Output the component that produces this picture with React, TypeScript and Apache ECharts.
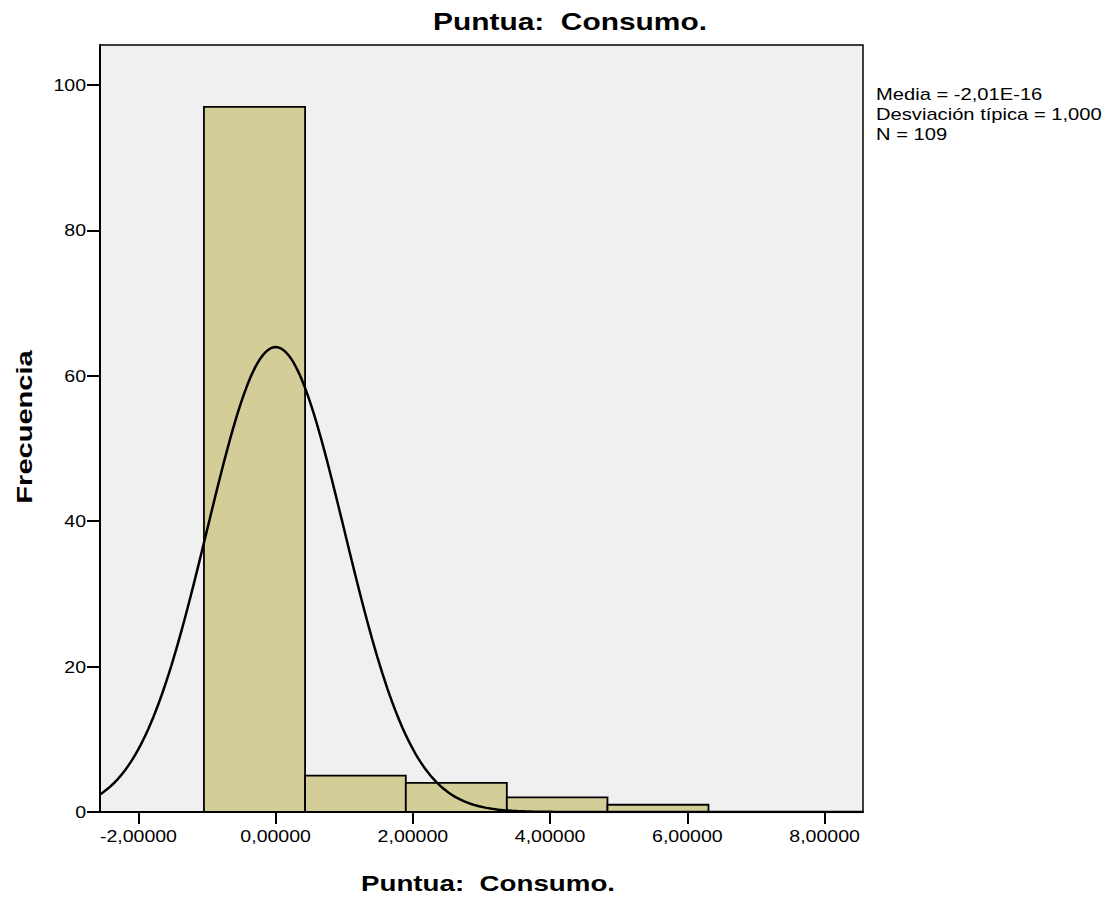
import React, { useEffect, useRef } from "react";
import * as echarts from "echarts";

// Histogram data (bin edges along the standardized score axis, frequencies per bin)
const binEdges = [-1.045, 0.429, 1.897, 3.369, 4.836, 6.308];
const binCounts = [97, 5, 4, 2, 1];

// Summary statistics shown in the legend
const mean = -2.01e-16;
const sd = 1.0;
const n = 109;
const statLines = ["Media = -2,01E-16", "Desviación típica = 1,000", "N = 109"];

// Axes
const xTicks = [-2, 0, 2, 4, 6, 8];
const yTicks = [0, 20, 40, 60, 80, 100];
const xMin = -2.56;
const xMax = 8.56;
const yMax = 105.5;

const titleText = "Puntua:  Consumo.";
const xName = "Puntua:  Consumo.";
const yName = "Frecuencia";

const FONT = "'Liberation Sans', Arial, sans-serif";

export default function App() {
  const ref = useRef<HTMLDivElement>(null);

  useEffect(() => {
    if (!ref.current) return;
    const chart = echarts.init(ref.current, null, { renderer: "svg" });

    const bins = binCounts.map((c, i) => [binEdges[i], binEdges[i + 1], c]);
    const binWidth = (binEdges[binEdges.length - 1] - binEdges[0]) / binCounts.length;

    // Normal curve scaled to the histogram (defined by mean, sd, n, bin width)
    const curve: number[][] = [];
    const steps = 300;
    for (let i = 0; i <= steps; i++) {
      const x = xMin + ((xMax - xMin) * i) / steps;
      const z = (x - mean) / sd;
      const y = ((n * binWidth) / (sd * Math.sqrt(2 * Math.PI))) * Math.exp(-0.5 * z * z);
      curve.push([x, y]);
    }

    const fmt = (v: number) => v.toFixed(5).replace(".", ",");

    chart.setOption({
      animation: false,
      backgroundColor: "#ffffff",
      grid: {
        left: 100,
        top: 45,
        width: 763,
        height: 767,
        show: true,
        backgroundColor: "#f0f0f0",
        borderColor: "#000",
        borderWidth: 1.5,
      },
      xAxis: {
        type: "value",
        min: xMin,
        max: xMax,
        splitLine: { show: false },
        axisLine: { show: true, onZero: false, lineStyle: { color: "#000", width: 2 } },
        axisTick: {
          show: true,
          customValues: xTicks,
          length: 12,
          lineStyle: { color: "#000", width: 2 },
        },
        axisLabel: { show: false },
      },
      yAxis: {
        type: "value",
        min: 0,
        max: yMax,
        splitLine: { show: false },
        axisLine: { show: true, onZero: false, lineStyle: { color: "#000", width: 2 } },
        axisTick: {
          show: true,
          customValues: yTicks,
          length: 13,
          lineStyle: { color: "#000", width: 2 },
        },
        axisLabel: { show: false },
      },
      series: [
        {
          type: "custom",
          data: bins,
          encode: { x: [0, 1], y: 2 },
          renderItem: (params: any, api: any) => {
            const p0 = api.coord([api.value(0), api.value(2)]);
            const p1 = api.coord([api.value(1), 0]);
            return {
              type: "rect",
              shape: { x: p0[0], y: p0[1], width: p1[0] - p0[0], height: p1[1] - p0[1] },
              style: { fill: "#d3ce97", stroke: "#000", lineWidth: 1.8 },
            };
          },
          z: 2,
        },
        {
          type: "line",
          data: curve,
          showSymbol: false,
          symbol: "none",
          lineStyle: { color: "#000", width: 2.5 },
          z: 3,
        },
      ],
    });

    // Tick labels placed through the axes' own scales
    const xAxisLabels = xTicks.map((v) => {
      const px = chart.convertToPixel({ xAxisIndex: 0 }, v) as number;
      return {
        type: "text",
        x: px,
        y: 827,
        scaleX: 1.15,
        style: {
          text: fmt(v),
          font: `17px ${FONT}`,
          fill: "#000",
          align: "center",
          verticalAlign: "top",
        },
      };
    });
    const yAxisLabels = yTicks.map((v) => {
      const py = chart.convertToPixel({ yAxisIndex: 0 }, v) as number;
      return {
        type: "text",
        x: 86,
        y: py,
        scaleX: 1.15,
        style: {
          text: String(v),
          font: `17px ${FONT}`,
          fill: "#000",
          align: "right",
          verticalAlign: "middle",
        },
      };
    });

    chart.setOption({
      graphic: [
        {
          type: "text",
          x: 570,
          y: 22,
          scaleX: 1.3,
          style: {
            text: titleText,
            font: `bold 23px ${FONT}`,
            fill: "#000",
            align: "center",
            verticalAlign: "middle",
          },
        },
        {
          type: "text",
          x: 488,
          y: 883,
          scaleX: 1.26,
          style: {
            text: xName,
            font: `bold 22px ${FONT}`,
            fill: "#000",
            align: "center",
            verticalAlign: "middle",
          },
        },
        {
          type: "text",
          x: 24,
          y: 427,
          rotation: Math.PI / 2,
          scaleX: 1.32,
          style: {
            text: yName,
            font: `bold 22px ${FONT}`,
            fill: "#000",
            align: "center",
            verticalAlign: "middle",
          },
        },
        ...statLines.map((t, i) => ({
          type: "text",
          x: 876,
          y: 87 + i * 19.8,
          scaleX: 1.26,
          style: {
            text: t,
            font: `16px ${FONT}`,
            fill: "#000",
            align: "left",
            verticalAlign: "top",
          },
        })),
        ...xAxisLabels,
        ...yAxisLabels,
      ],
    });

    return () => chart.dispose();
  }, []);

  return (
    <div
      ref={ref}
      style={{ position: "fixed", left: 0, top: 0, width: 1109, height: 898, background: "#fff" }}
    />
  );
}
